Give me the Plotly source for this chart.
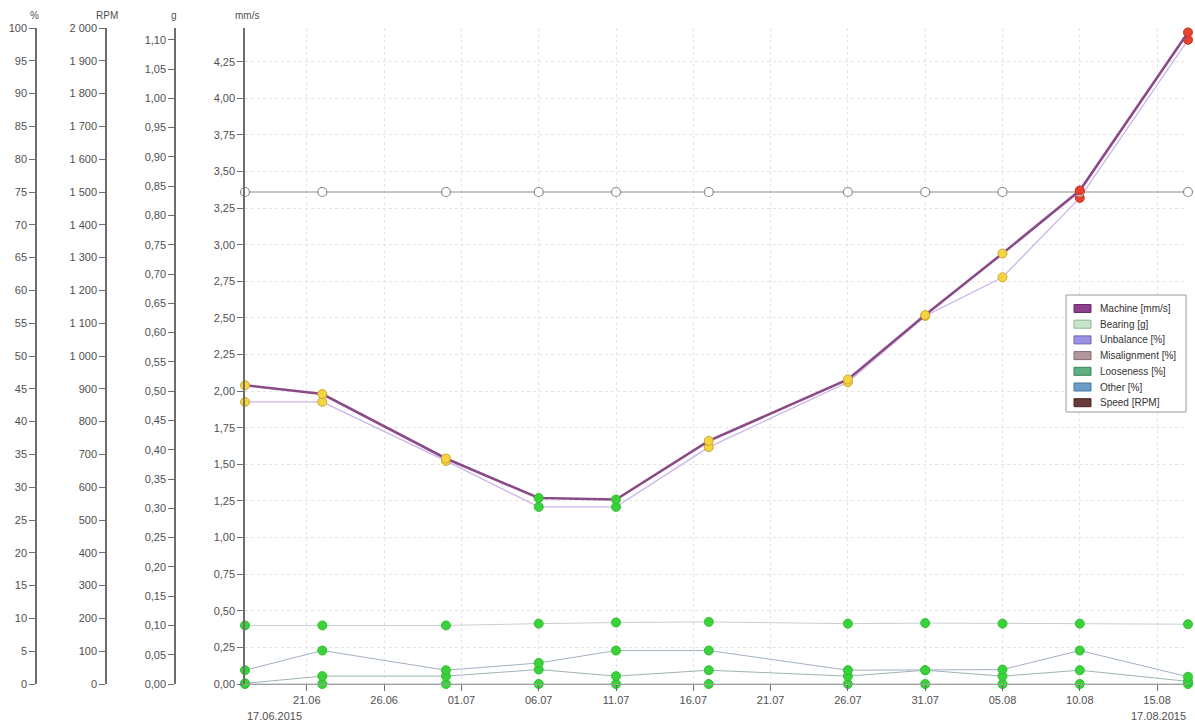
import plotly.graph_objects as go

# measurement dates
dates = ["2015-06-17", "2015-06-22", "2015-06-30", "2015-07-06", "2015-07-11",
         "2015-07-17", "2015-07-26", "2015-07-31", "2015-08-05", "2015-08-10",
         "2015-08-17"]

# series values
machine_mms = [2.04, 1.98, 1.54, 1.27, 1.26, 1.66, 2.08, 2.52, 2.94, 3.37, 4.45]
unbalance_pct = [43.0, 43.0, 34.0, 27.0, 27.0, 36.1, 46.0, 56.1, 62.0, 74.1, 98.2]
bearing_g = [0.100, 0.100, 0.100, 0.103, 0.105, 0.106, 0.103, 0.104, 0.103, 0.103, 0.102]
looseness_pct = [2.1, 5.1, 2.1, 3.2, 5.1, 5.1, 2.1, 2.1, 2.2, 5.1, 1.1]
other_pct = [0.1, 1.2, 1.2, 2.2, 1.2, 2.1, 1.2, 2.1, 1.2, 2.1, 0.4]
misalignment_pct = [0, 0, 0, 0, 0, 0, 0, 0, 0, 0, 0]
speed_rpm = [1500, 1500, 1500, 1500, 1500, 1500, 1500, 1500, 1500, 1500, 1500]

# machine state per measurement
status = ["warn", "warn", "warn", "ok", "ok", "warn", "warn", "warn", "warn", "alarm", "alarm"]

legend_names = ["Machine [mm/s]", "Bearing [g]", "Unbalance [%]", "Misalignment [%]",
                "Looseness [%]", "Other [%]", "Speed [RPM]"]
legend_colors = ["#8e3f8c", "#c6e6cc", "#9c90e4", "#b4979c", "#5fae80", "#6a9ec8", "#6b3b3b"]
legend_edges = ["#6a2a68", "#8fb496", "#6f64b8", "#86696e", "#3f8460", "#45789f", "#4a2424"]

STATE_FILL = {"ok": "#3ad23a", "warn": "#f4d442", "alarm": "#e8412e"}
STATE_EDGE = {"ok": "#2fbf2f", "warn": "#cfa92a", "alarm": "#c8321f"}

FONT = "Liberation Sans, Arial, sans-serif"
TICK_FONT = dict(size=11, color="#505050")
W, H = 1195, 724
TOP, BOTTOM = 28, 40
PLOT_H = H - TOP - BOTTOM


def px_x(px):
    return px / W


def px_y(px):
    return (H - BOTTOM - px) / PLOT_H


fill = [STATE_FILL[s] for s in status]
edge = [STATE_EDGE[s] for s in status]
green = STATE_FILL["ok"]

fig = go.Figure()

# axes: y = %, y2 = g, y3 = RPM, y4 = mm/s (drawn last so the machine line sits on top)

# low percentage series
for vals, col in [(misalignment_pct, "#b0b8bc"), (other_pct, "#9fb3b8"), (looseness_pct, "#a3b1c2")]:
    fig.add_trace(go.Scatter(x=dates, y=vals, yaxis="y", mode="lines+markers",
                             line=dict(color=col, width=1),
                             marker=dict(color=green, size=9, line=dict(color="#2fbf2f", width=1)),
                             cliponaxis=False))

# unbalance
fig.add_trace(go.Scatter(x=dates, y=unbalance_pct, yaxis="y", mode="lines+markers",
                         line=dict(color="#cdb3e8", width=1.3),
                         marker=dict(color=fill, size=9, line=dict(color=edge, width=1)),
                         cliponaxis=False))

# bearing
fig.add_trace(go.Scatter(x=dates, y=bearing_g, yaxis="y2", mode="lines+markers",
                         line=dict(color="#c9d0d2", width=1),
                         marker=dict(color=green, size=9, line=dict(color="#2fbf2f", width=1)),
                         cliponaxis=False))

# speed
fig.add_trace(go.Scatter(x=dates, y=speed_rpm, yaxis="y3", mode="lines+markers",
                         line=dict(color="#8c8c8c", width=1.2),
                         marker=dict(color="white", size=9, line=dict(color="#8c8c8c", width=1.2)),
                         cliponaxis=False))

# machine
fig.add_trace(go.Scatter(x=dates, y=machine_mms, yaxis="y4", mode="lines+markers",
                         line=dict(color="#8a4a88", width=2.6),
                         marker=dict(color=fill, size=9, line=dict(color=edge, width=1)),
                         cliponaxis=False))

axis_common = dict(showline=True, linecolor="#6e6e6e", linewidth=1.5, ticks="outside",
                   ticklen=6, tickcolor="#6e6e6e", tickfont=TICK_FONT,
                   zeroline=False, fixedrange=True, side="left")

fig.update_layout(
    width=W, height=H,
    margin=dict(l=0, r=0, t=TOP, b=BOTTOM),
    paper_bgcolor="white", plot_bgcolor="white",
    font=dict(family=FONT, size=10, color="#505050"),
    separators=", ",
    showlegend=False,
    xaxis=dict(type="date", domain=[px_x(245), px_x(1188)], range=[dates[0], dates[-1]],
               tick0="2015-06-21", dtick=5 * 86400000, tickformat="%d.%m",
               showgrid=True, gridcolor="#e4e4e4", griddash="dot",
               showline=True, linecolor="#a0a0a0", linewidth=1, ticks="outside",
               ticklen=6, tickcolor="#6e6e6e", tickfont=TICK_FONT,
               zeroline=False, fixedrange=True),
    yaxis=dict(range=[0, 100], dtick=5, anchor="free", position=px_x(36),
               showgrid=False, **axis_common),
    yaxis2=dict(range=[0, 1.12], dtick=0.05, tickformat=".2f", overlaying="y", anchor="free",
                position=px_x(175), showgrid=False, **axis_common),
    yaxis3=dict(range=[0, 2000], dtick=100, tickformat=",d", overlaying="y", anchor="free",
                position=px_x(106), showgrid=False, **axis_common),
    yaxis4=dict(range=[0, 4.48], dtick=0.25, tickformat=".2f", overlaying="y", anchor="x",
                showgrid=True, gridcolor="#e4e4e4", griddash="dot", **axis_common),
)

# axis unit labels
for text, xp in [("%", 34), ("RPM", 107), ("g", 174), ("mm/s", 247)]:
    fig.add_annotation(x=px_x(xp), y=px_y(16), xref="paper", yref="paper", text=text,
                       showarrow=False, xanchor="center", yanchor="middle",
                       font=dict(size=10, color="#505050"))

# start / end dates
fig.add_annotation(x=dates[0], y=px_y(716), xref="x", yref="paper", text="17.06.2015",
                   showarrow=False, xanchor="left", yanchor="middle", font=TICK_FONT)
fig.add_annotation(x=dates[-1], y=px_y(716), xref="x", yref="paper", text="17.08.2015",
                   showarrow=False, xanchor="right", yanchor="middle", font=TICK_FONT)

# legend box drawn by hand (swatch rectangles like the original)
fig.add_shape(type="rect", xref="paper", yref="paper",
              x0=px_x(1066), x1=px_x(1186), y0=px_y(412), y1=px_y(295),
              fillcolor="white", line=dict(color="#9a9a9a", width=1), layer="above")
for i, (name, col, ec) in enumerate(zip(legend_names, legend_colors, legend_edges)):
    cy = 308.5 + 15.7 * i
    fig.add_shape(type="rect", xref="paper", yref="paper",
                  x0=px_x(1074), x1=px_x(1091), y0=px_y(cy + 4), y1=px_y(cy - 4),
                  fillcolor=col, line=dict(color=ec, width=1), layer="above")
    fig.add_annotation(x=px_x(1098), y=px_y(cy), xref="paper", yref="paper", text=name,
                       showarrow=False, xanchor="left", yanchor="middle",
                       font=dict(size=10, color="#333333"))

fig.write_html("out.html", config={"displayModeBar": False},
               post_script="document.body.style.margin = '0px';")
